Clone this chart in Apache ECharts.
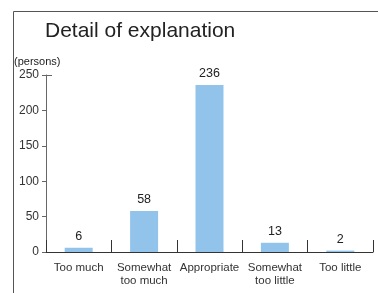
<!DOCTYPE html>
<html>
<head>
<meta charset="utf-8">
<script src="https://cdn.jsdelivr.net/npm/echarts@6/dist/echarts.min.js"></script>
<style>
  html, body { margin: 0; padding: 0; background: #fff; }
  #chart { width: 378px; height: 293px; }
</style>
</head>
<body>
<div id="chart"></div>
<script>
const categories = ['Too much', 'Somewhat\ntoo much', 'Appropriate', 'Somewhat\ntoo little', 'Too little']
const persons = [6, 58, 236, 13, 2]
const yTicks = [0, 50, 100, 150, 200, 250]

const font = 'Liberation Sans, Arial, sans-serif'
const chart = echarts.init(document.getElementById('chart'))

chart.setOption({
  animation: false,
  title: {
    text: 'Detail of explanation',
    left: 40,
    top: 16,
    textStyle: { fontFamily: font, fontSize: 21, fontWeight: 'normal', color: '#222' }
  },
  graphic: [
    // frame around the figure
    {
      type: 'rect',
      shape: { x: 13.5, y: 11.5, width: 400, height: 400 },
      style: { fill: 'none', stroke: '#555', lineWidth: 1 }
    },
    {
      type: 'text',
      left: 14,
      top: 56,
      style: { text: '(persons)', font: '11px ' + font, fill: '#222' }
    },
    // small cap at the top of the y axis
    {
      type: 'line',
      shape: { x1: 46, y1: 75.5, x2: 52, y2: 75.5 },
      style: { stroke: '#666', lineWidth: 1 }
    }
  ],
  grid: { left: 46, right: 5, top: 75, bottom: 41 },
  xAxis: {
    type: 'category',
    data: categories,
    axisLine: { lineStyle: { color: '#333' } },
    axisTick: { show: true, inside: true, length: 12, interval: 0, lineStyle: { color: '#333' } },
    axisLabel: {
      interval: 0,
      margin: 9,
      fontFamily: font,
      fontSize: 11.5,
      lineHeight: 13,
      color: '#333'
    }
  },
  yAxis: {
    type: 'value',
    min: yTicks[0],
    max: yTicks[yTicks.length - 1],
    interval: 50,
    splitLine: { show: false },
    axisLine: { show: true, lineStyle: { color: '#666' } },
    axisTick: { show: true, length: 4, lineStyle: { color: '#666' } },
    axisLabel: { margin: 7, fontFamily: font, fontSize: 12, color: '#333' }
  },
  series: [
    {
      type: 'bar',
      data: persons,
      barWidth: 28,
      itemStyle: { color: '#92c4eb' },
      label: {
        show: true,
        position: 'top',
        distance: 5,
        fontFamily: font,
        fontSize: 12.5,
        color: '#222'
      }
    }
  ]
})
</script>
</body>
</html>
